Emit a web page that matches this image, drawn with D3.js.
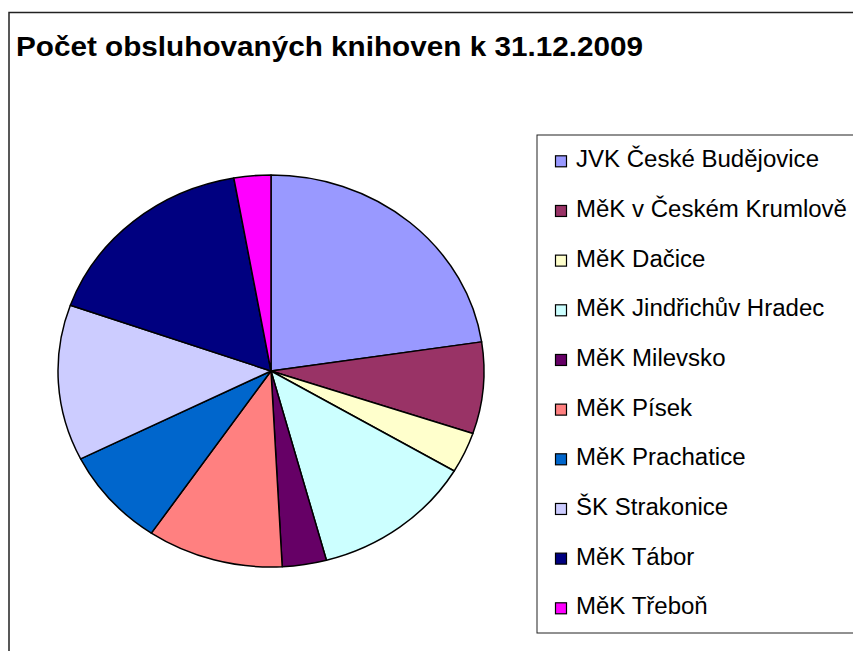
<!DOCTYPE html>
<html>
<head>
<meta charset="utf-8">
<script src="https://cdn.jsdelivr.net/npm/d3@7"></script>
<style>
  body { margin: 0; background: #fff; }
  svg { display: block; font-family: Arial, "Liberation Sans", sans-serif; }
</style>
</head>
<body>
<script>
var width = 853,
    height = 651;

// Data (number of served libraries)
var libraries = ["JVK České Budějovice", "MěK v Českém Krumlově", "MěK Dačice",
    "MěK Jindřichův Hradec", "MěK Milevsko", "MěK Písek", "MěK Prachatice",
    "ŠK Strakonice", "MěK Tábor", "MěK Třeboň"];
var counts = [81, 27, 12, 44, 12, 37, 29, 46, 60, 10];
var colors = ["#9999FF", "#993366", "#FFFFCC", "#CCFFFF", "#660066",
    "#FF8080", "#0066CC", "#CCCCFF", "#000080", "#FF00FF"];
var title = "Počet obsluhovaných knihoven k 31.12.2009";

var svg = d3.select("body").append("svg")
    .attr("width", width)
    .attr("height", height);

// outer chart frame (runs off the right and bottom edge)
svg.append("rect")
    .attr("x", 9).attr("y", 12.5)
    .attr("width", width + 20).attr("height", height + 20)
    .attr("fill", "none")
    .attr("stroke", "#222")
    .attr("stroke-width", 1.5);

// title
var t = svg.append("text")
    .attr("x", 16)
    .attr("y", 56)
    .attr("font-size", 27)
    .attr("font-weight", "bold")
    .attr("fill", "#000")
    .text(title);
t.attr("textLength", 627).attr("lengthAdjust", "spacingAndGlyphs");

// pie, slightly squashed like the original (ellipse)
var cx = 271, cy = 371, rx = 213, ry = 196;

var color = d3.scaleOrdinal().domain(libraries).range(colors);

var pie = d3.pie()
    .sort(null)
    .value(function(d, i) { return counts[i]; });

var arc = d3.arc()
    .innerRadius(0)
    .outerRadius(ry);

var pieG = svg.append("g")
    .attr("transform", "translate(" + cx + "," + cy + ") scale(" + (rx / ry) + ",1)");

pieG.selectAll("path.slice")
    .data(pie(libraries))
    .enter().append("path")
    .attr("class", "slice")
    .attr("d", arc)
    .attr("fill", function(d) { return color(d.data); })
    .attr("stroke", "#000")
    .attr("stroke-width", 1.5)
    .attr("stroke-linejoin", "round")
    .attr("vector-effect", "non-scaling-stroke");

// legend
var legend = svg.append("g");
legend.append("rect")
    .attr("x", 537).attr("y", 135)
    .attr("width", 330).attr("height", 498)
    .attr("fill", "#fff")
    .attr("stroke", "#222")
    .attr("stroke-width", 1);

var rowY = d3.scalePoint()
    .domain(libraries)
    .range([167.3, 614.3]);

var items = legend.selectAll("g.item")
    .data(libraries)
    .enter().append("g")
    .attr("class", "item")
    .attr("transform", function(d) { return "translate(0," + rowY(d) + ")"; });

items.append("rect")
    .attr("x", 555.5).attr("y", -11.5)
    .attr("width", 11).attr("height", 11)
    .attr("fill", function(d) { return color(d); })
    .attr("stroke", "#000")
    .attr("stroke-width", 1.2);

var labels = items.append("text")
    .attr("x", 576)
    .attr("y", 0)
    .attr("font-size", 23)
    .attr("fill", "#000")
    .text(function(d) { return d; });

// stretch labels to match the width of the original rendering
var firstW = labels.node().getComputedTextLength();
var k = 243 / firstW;
labels.each(function() {
    var w = this.getComputedTextLength();
    d3.select(this).attr("textLength", w * k).attr("lengthAdjust", "spacingAndGlyphs");
});
</script>
</body>
</html>
